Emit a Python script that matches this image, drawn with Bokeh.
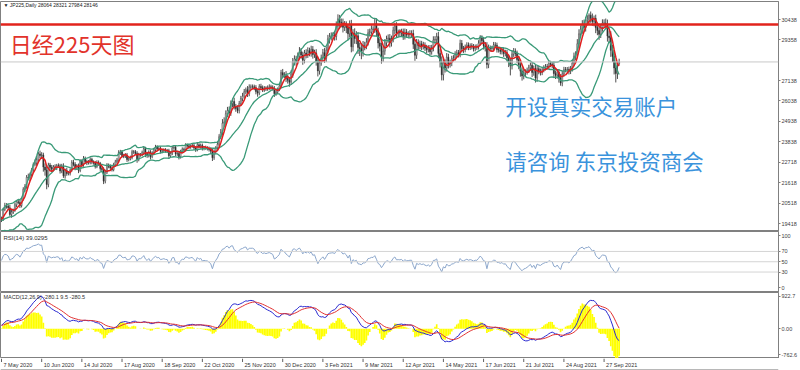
import numpy as np
import pandas as pd
from bokeh.plotting import figure
from bokeh.models import Range1d, FixedTicker, Span, Label, ColumnDataSource, NumeralTickFormatter
from bokeh.layouts import column
from bokeh.core.properties import value
from bokeh.embed import file_html
from bokeh.resources import INLINE

# ---------------- data ----------------
tick_index = [0, 24, 48, 72, 96, 120, 144, 168, 192, 216, 240, 264, 288, 312, 336, 360]
tick_labels = ["7 May 2020", "10 Jun 2020", "14 Jul 2020", "17 Aug 2020", "18 Sep 2020",
               "22 Oct 2020", "25 Nov 2020", "30 Dec 2020", "3 Feb 2021", "9 Mar 2021",
               "12 Apr 2021", "14 May 2021", "17 Jun 2021", "21 Jul 2021", "24 Aug 2021",
               "27 Sep 2021"]

# closes before the first visible bar (indicator warm-up)
pre_close = [19353, 19345, 19498, 19043, 19638, 19550, 19290, 19897, 19669, 19280, 19137,
             19429, 19262, 19783, 19771, 19900, 20193, 19619, 19600, 19700, 19650]

close = [
    19674, 20179, 20390, 20366, 20267, 19914, 20037, 20133, 20433, 20595, 20552, 20388,
    20741, 21271, 21419, 21916, 21877, 22062, 22325, 22613, 22695, 22863, 23178, 23091,
    23124, 22472, 22305, 21530, 22582, 22455, 22355, 22478, 22437, 22549, 22534, 22259,
    22512, 21995, 22288, 22122, 22145, 22306, 22714, 22614, 22438, 22529, 22291, 22784,
    22587, 22945, 22770, 22696, 22717, 22884, 22751, 22700, 22500, 22715, 22657, 22397,
    22339, 21710, 22195, 22573, 22514, 22418, 22329, 22600, 22750, 22843, 23249, 23289,
    23096, 23051, 23110, 22880, 22920, 22985, 23296, 23290, 23208, 22882, 23139, 23138,
    23247, 23465, 23205, 23089, 23274, 23032, 23235, 23406, 23559, 23454, 23475, 23319,
    23360, 23400, 23350, 23346, 23087, 23204, 23511, 23539, 23185, 23200, 23029, 23312,
    23433, 23422, 23647, 23619, 23558, 23601, 23626, 23507, 23410, 23671, 23567, 23639,
    23474, 23516, 23494, 23485, 23418, 23331, 22977, 23295, 23500, 23695, 24105, 24325,
    24839, 24905, 25349, 25520, 25385, 25906, 26014, 25728, 25634, 25527, 25900, 26165,
    26296, 26537, 26644, 26433, 26787, 26800, 26809, 26751, 26547, 26467, 26817, 26756,
    26652, 26732, 26687, 26757, 26806, 26763, 26714, 26436, 26524, 26668, 26854, 27568,
    27444, 27400, 27258, 27158, 27056, 27490, 28139, 28300, 28164, 28456, 28698, 28519,
    28242, 28633, 28523, 28756, 28631, 28822, 28546, 28635, 28197, 27663, 28091, 28362,
    28646, 28341, 28779, 29388, 29505, 29562, 29600, 29520, 30084, 30467, 30292, 30236,
    30017, 30156, 30000, 29671, 30168, 28966, 29664, 29408, 29559, 28930, 28864, 28743,
    29027, 29036, 29212, 29717, 29766, 29921, 29914, 30216, 29792, 29174, 28995, 28405,
    28729, 29176, 29384, 29432, 29178, 29388, 29854, 30089, 29696, 29730, 29708, 29768,
    29538, 29751, 29621, 29642, 29683, 29685, 29100, 28508, 29188, 29020, 29126, 28991,
    29053, 28900, 28812, 28900, 28700, 28900, 29331, 29357, 29518, 28608, 28147, 27448,
    28084, 27824, 28406, 28044, 28098, 28317, 28364, 28553, 28642, 28549, 29149, 28860,
    28814, 28946, 29058, 28941, 29019, 28963, 28860, 28958, 28948, 29161, 29441, 29291,
    29018, 28964, 28010, 28884, 28874, 28875, 29066, 29048, 28812, 28791, 28707, 28783,
    28598, 28643, 28366, 28118, 27940, 28569, 28718, 28608, 28279, 28003, 27652, 27388,
    27548, 27600, 27700, 27833, 27970, 27581, 27782, 27283, 27781, 27641, 27584, 27728,
    27820, 27900, 27888, 28070, 28015, 27977, 27523, 27424, 27585, 27281, 27013, 27494,
    27732, 27725, 27742, 27641, 27789, 28089, 28451, 28543, 29128, 29659, 29916, 30181,
    30008, 30381, 30447, 30670, 30511, 30323, 30500, 30000, 29840, 29639, 30000, 30248,
    30240, 30183, 29544, 29452, 28771, 28444, 27822, 27528, 27678, 28146]

# wick lengths above / below the candle body (points)
wick_up = [
    120, 90, 150, 130, 100, 160, 120, 90, 110, 80, 120, 150, 90, 110, 130, 120, 200, 110, 90, 100, 180, 140, 110, 180,
    150, 120, 200, 180, 120, 110, 130, 100, 140, 90, 120, 110, 130, 160, 100, 140, 110, 90, 130, 150, 120, 100, 130, 110,
    110, 120, 90, 100, 130, 110, 90, 80, 100, 120, 110, 90, 100, 120, 130, 110, 90, 100, 120, 100, 110, 120, 130, 110,
    100, 90, 110, 120, 80, 100, 110, 90, 100, 120, 100, 90, 110, 130, 100, 90, 100, 110, 90, 100, 110, 90, 100, 110,
    90, 80, 90, 100, 110, 90, 100, 110, 90, 100, 120, 90, 100, 90, 110, 80, 100, 90, 100, 110, 90, 100, 90, 100,
    100, 90, 110, 100, 90, 110, 120, 130, 100, 150, 140, 200, 220, 250, 180, 200, 220, 160, 150, 200, 150, 160, 140, 150,
    180, 150, 120, 200, 150, 130, 120, 110, 140, 120, 130, 150, 120, 110, 100, 120, 130, 110, 120, 130, 110, 100, 120, 150,
    200, 150, 250, 200, 180, 200, 220, 200, 180, 200, 250, 200, 180, 160, 200, 180, 160, 200, 180, 170, 200, 250, 200, 180,
    200, 250, 200, 220, 200, 180, 150, 200, 250, 250, 220, 200, 250, 200, 180, 200, 220, 250, 250, 300, 250, 200, 250, 300,
    250, 200, 220, 200, 180, 200, 150, 250, 280, 200, 220, 200, 250, 200, 180, 200, 220, 180, 200, 180, 200, 160, 180, 170,
    180, 200, 170, 160, 180, 170, 200, 250, 200, 180, 170, 160, 180, 150, 170, 150, 160, 170, 200, 180, 200, 250, 250, 300,
    250, 200, 220, 180, 170, 160, 150, 170, 160, 150, 200, 180, 150, 140, 150, 140, 130, 140, 150, 130, 140, 160, 150, 140,
    180, 200, 250, 200, 150, 140, 160, 150, 140, 130, 150, 140, 150, 160, 150, 180, 200, 200, 180, 160, 150, 200, 180, 200,
    200, 150, 140, 160, 150, 180, 170, 200, 180, 160, 150, 140, 150, 130, 140, 150, 140, 130, 150, 160, 150, 180, 200, 180,
    150, 140, 130, 150, 140, 180, 200, 180, 250, 250, 200, 220, 250, 200, 220, 100, 200, 250, 150, 200, 180, 200, 180, 200,
    200, 250, 250, 300, 350, 300, 350, 300, 400, 175]
wick_dn = [
    150, 110, 90, 140, 120, 110, 180, 100, 80, 120, 90, 130, 100, 80, 150, 120, 110, 160, 90, 120, 100, 150, 120, 140,
    180, 250, 300, 260, 150, 140, 120, 110, 100, 130, 90, 140, 120, 110, 150, 120, 100, 130, 90, 110, 140, 120, 150, 100,
    140, 100, 110, 120, 90, 100, 130, 100, 110, 90, 120, 130, 150, 160, 120, 100, 110, 120, 100, 90, 110, 100, 120, 130,
    110, 100, 90, 130, 100, 90, 100, 110, 90, 180, 100, 110, 90, 100, 200, 120, 100, 150, 90, 100, 90, 110, 100, 120,
    100, 90, 100, 110, 120, 100, 90, 100, 130, 110, 150, 100, 90, 110, 100, 90, 110, 100, 90, 100, 120, 90, 100, 110,
    110, 100, 90, 120, 110, 130, 180, 120, 110, 100, 120, 130, 150, 200, 150, 180, 250, 150, 200, 150, 180, 150, 160, 120,
    150, 120, 130, 180, 140, 120, 110, 130, 150, 200, 120, 110, 130, 120, 110, 100, 120, 130, 110, 180, 120, 110, 100, 130,
    150, 130, 200, 180, 250, 150, 200, 180, 220, 150, 180, 200, 250, 170, 180, 160, 180, 200, 220, 180, 250, 300, 200, 150,
    200, 250, 200, 180, 250, 200, 180, 220, 200, 200, 250, 220, 280, 200, 300, 350, 200, 300, 250, 280, 300, 350, 400, 450,
    300, 250, 200, 180, 200, 150, 180, 200, 250, 300, 280, 350, 250, 200, 180, 200, 250, 200, 180, 200, 250, 200, 180, 200,
    200, 180, 170, 160, 180, 200, 250, 300, 200, 220, 180, 200, 170, 160, 200, 150, 180, 160, 180, 200, 180, 250, 300, 300,
    300, 250, 200, 250, 200, 180, 150, 140, 150, 160, 150, 200, 180, 150, 140, 160, 150, 140, 150, 140, 150, 130, 140, 180,
    200, 250, 220, 200, 160, 150, 140, 150, 160, 140, 150, 160, 180, 150, 200, 250, 520, 200, 150, 160, 200, 250, 300, 250,
    180, 160, 140, 150, 160, 250, 180, 250, 200, 160, 170, 150, 140, 130, 150, 140, 150, 160, 250, 200, 180, 250, 150, 180,
    150, 140, 160, 170, 150, 160, 180, 200, 200, 250, 200, 250, 250, 220, 200, 250, 250, 220, 250, 300, 250, 300, 200, 220,
    200, 250, 300, 300, 350, 300, 350, 490, 300, 80]

last_ohlc = [28064, 28321, 27984, 28146]   # header O H L C of the last bar
red_level = 30171
main_axis_ticks = [19418, 20518, 21618, 22718, 23838, 24938, 26038, 27138, 29358, 30438]
rsi_ticks = [0, 30, 50, 70, 100]
rsi_levels = [30, 50, 70]
macd_limits = [-762.6, 922.7]
macd_tick_pos = {-664: "-762.6", 0: "0.00", 830: "922.7"}
hist_scale = 2.2

header_text = "\u25bc JP225,Daily  28064 28321 27984 28146"
rsi_text = "RSI(14) 39.0295"
macd_text = "MACD(12,26,9) -280.1 9.5 -280.5"
title_text = "日经225天图"
ad_text_1 = "开设真实交易账户"
ad_text_2 = "请咨询 东京投资商会"

# ---------------- derived series ----------------
n = min(len(close), len(wick_up), len(wick_dn))
close = close[:n]
idx = list(range(n))
opens = [pre_close[-1]] + close[:-1]
opens[-1] = last_ohlc[0]
tops = [max(o, c) for o, c in zip(opens, close)]
bots = [min(o, c) for o, c in zip(opens, close)]
highs = [t + u for t, u in zip(tops, wick_up[:n])]
lows = [b - d for b, d in zip(bots, wick_dn[:n])]

npre = len(pre_close)
allc = pd.Series(pre_close + close, dtype=float)
mid = allc.rolling(20).mean()
sd = allc.rolling(20).std(ddof=0)
bb_up = (mid + 2 * sd).iloc[npre:].tolist()
bb_lo = (mid - 2 * sd).iloc[npre:].tolist()
bb_mid = mid.iloc[npre:].tolist()
ma5 = allc.rolling(5).mean().iloc[npre:].tolist()

delta = allc.diff().fillna(0)
gain = delta.clip(lower=0).ewm(alpha=1 / 14, adjust=False).mean()
loss = (-delta.clip(upper=0)).ewm(alpha=1 / 14, adjust=False).mean()
rsi = (100 - 100 / (1 + gain / loss.replace(0, np.nan))).fillna(50).iloc[npre:].tolist()

ema12 = allc.ewm(span=12, adjust=False).mean()
ema26 = allc.ewm(span=26, adjust=False).mean()
macd = ema12 - ema26
sig = macd.ewm(span=9, adjust=False).mean()
hist = ((macd - sig) * hist_scale).iloc[npre:].tolist()
macd_v = macd.iloc[npre:].tolist()
sig_v = sig.iloc[npre:].tolist()

# ---------------- figures ----------------
xr = Range1d(-0.6, 464.2)
GRAY = "#808080"
AXFONT = "Liberation Sans"


def panel(height, yr, top_border=0):
    f = figure(width=800, height=height, x_range=xr, y_range=yr, output_backend="svg",
               toolbar_location=None, x_axis_location=None, y_axis_location="right",
               min_border_left=0, min_border_right=22, min_border_top=top_border,
               min_border_bottom=0, background_fill_color="white", border_fill_color="white")
    f.grid.visible = False
    f.outline_line_color = GRAY
    f.outline_line_width = 1
    ax = f.yaxis[0]
    ax.axis_line_color = GRAY
    ax.major_tick_line_color = GRAY
    ax.major_tick_in = 0
    ax.major_tick_out = 2
    ax.minor_tick_in = 0
    ax.minor_tick_out = 0
    ax.major_label_standoff = 1
    ax.major_label_text_font = AXFONT
    ax.major_label_text_font_size = "5.5px"
    ax.major_label_text_color = "#404040"
    return f


# main price panel
main = panel(231, Range1d(18990, 31410), top_border=1)
main.yaxis[0].ticker = FixedTicker(ticks=main_axis_ticks)
main.yaxis[0].formatter = NumeralTickFormatter(format="0")

main.add_layout(Span(location=last_ohlc[3], dimension="width", line_color="#c8c8c8", line_width=1))

src = ColumnDataSource(dict(x=idx, h=highs, l=lows, top=tops, bot=bots,
                            fill=["#ffffff" if c >= o else "#202020" for o, c in zip(opens, close)]))
main.segment(x0="x", y0="l", x1="x", y1="h", source=src, line_color="#3a3a3a", line_width=0.9)
main.vbar(x="x", width=0.6, top="top", bottom="bot", fill_color="fill",
          line_color="#3a3a3a", line_width=0.5, source=src)

BB = "#3a9a78"
main.line(idx, bb_up, line_color=BB, line_width=1.3)
main.line(idx, bb_mid, line_color=BB, line_width=1.3)
main.line(idx, bb_lo, line_color=BB, line_width=1.3)
main.line(idx, ma5, line_color="#e01e1e", line_width=1.5)

main.add_layout(Span(location=red_level, dimension="width", line_color="#e2231c", line_width=2.5))

main.text(x=[1.2], y=[31221], text=[header_text], text_font=value(AXFONT),
          text_font_size=value("5px"), text_color="#202020", text_baseline="middle", text_align="left")
main.text(x=[5], y=[29150], text=[title_text], text_font=value("Noto Sans CJK SC"),
          text_font_size=value("22px"), text_color="#e2332b", text_baseline="middle", text_align="left")
main.text(x=[301, 301], y=[25800, 22830], text=[ad_text_1, ad_text_2],
          text_font=value("Noto Sans CJK SC"), text_font_size=value("21.5px"),
          text_color="#3a93dc", text_baseline="middle", text_align="left")

for val, txt, bg in [(red_level, str(red_level), "#e2231c"), (last_ohlc[3], str(last_ohlc[3]), "#000000")]:
    main.add_layout(Label(x=779, y=val, x_units="screen", y_units="data", text=txt,
                          text_font=AXFONT, text_font_size="5.5px", text_color="white",
                          text_baseline="middle", text_align="left", background_fill_color=bg))

# RSI panel
rp = panel(61, Range1d(-9.7, 108.7))
rp.yaxis[0].ticker = FixedTicker(ticks=rsi_ticks)
rp.yaxis[0].formatter = NumeralTickFormatter(format="0")
for lv in rsi_levels:
    rp.add_layout(Span(location=lv, dimension="width", line_color="#d4d4d4", line_width=1))
rp.line(idx, rsi, line_color="#8ca7cc", line_width=1)
rp.text(x=[1.2], y=[97], text=[rsi_text], text_font=value(AXFONT), text_font_size=value("6px"),
        text_color="#303030", text_baseline="middle", text_align="left")

# MACD panel
mp = panel(66, Range1d(macd_limits[0], macd_limits[1]))
mp.yaxis[0].ticker = FixedTicker(ticks=list(macd_tick_pos.keys()))
mp.yaxis[0].major_label_overrides = macd_tick_pos
mp.vbar(x=idx, top=hist, bottom=0, width=1.0, fill_color="#ffff00", line_color=None)
mp.line(idx, macd_v, line_color="#2a2ad0", line_width=1)
mp.line(idx, sig_v, line_color="#e03030", line_width=1)
mp.text(x=[1.2], y=[816], text=[macd_text], text_font=value(AXFONT), text_font_size=value("5.5px"),
        text_color="#303030", text_baseline="middle", text_align="left")

# date labels row
xl = figure(width=800, height=12, x_range=xr, y_range=Range1d(0, 12), output_backend="svg",
            toolbar_location=None, x_axis_location=None, y_axis_location=None,
            min_border_left=0, min_border_right=22, min_border_top=0, min_border_bottom=0,
            background_fill_color="white", border_fill_color="white")
xl.grid.visible = False
xl.outline_line_color = None
xl.segment(x0=tick_index, y0=[12] * len(tick_index), x1=tick_index, y1=[8.5] * len(tick_index),
           line_color="#606060", line_width=1)
xl.text(x=tick_index, y=[5.5] * len(tick_index), text=tick_labels, x_offset=2,
        text_font=value(AXFONT), text_font_size=value("5.5px"), text_color="#303030",
        text_baseline="middle", text_align="left")
xl.add_layout(Span(location=0.6, dimension="width", line_color="#a0a0a0", line_width=1.5))

layout = column(main, rp, mp, xl, spacing=0)
open("out.html", "w").write(file_html(layout, INLINE))
